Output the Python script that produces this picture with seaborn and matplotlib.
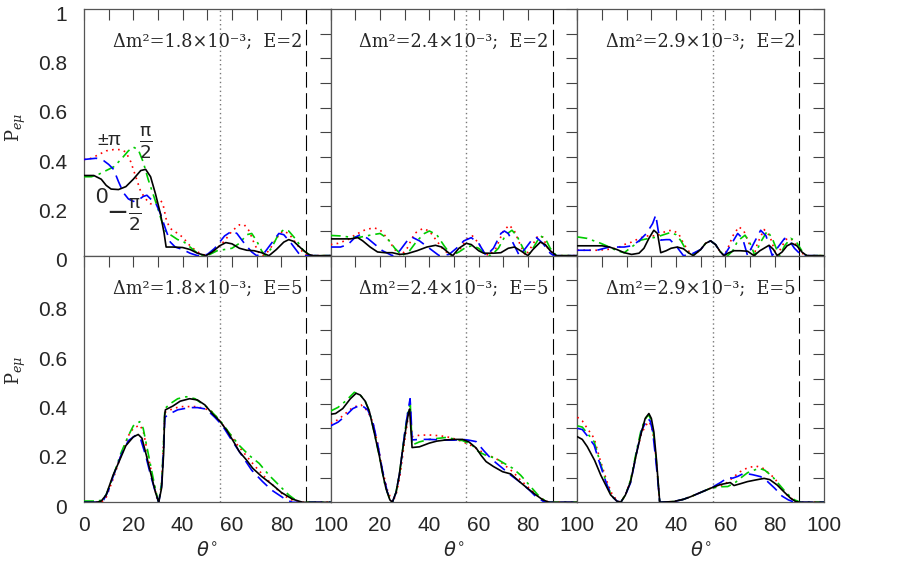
import numpy as np
import pandas as pd
import matplotlib
matplotlib.use("Agg")
import matplotlib.pyplot as plt
from matplotlib.transforms import ScaledTranslation
import seaborn as sns

# ---------------- data (theta in degrees, P_e_mu) ----------------
phases = ["±π", "π/2", "−π/2", "0"]
panel_titles = [
    "Δm²=1.8×10⁻³;  E=2", "Δm²=2.4×10⁻³;  E=2", "Δm²=2.9×10⁻³;  E=2",
    "Δm²=1.8×10⁻³;  E=5", "Δm²=2.4×10⁻³;  E=5", "Δm²=2.9×10⁻³;  E=5",
]
x_ticklabels = ["0", "20", "40", "60", "80", "100"]
y_ticklabels = ["0", "0.2", "0.4", "0.6", "0.8", "1"]

# top-left: dm2 = 1.8e-3, E = 2
tl_pi = [(0,0.39),(3,0.395),(6,0.41),(9,0.425),(12,0.43),(15,0.43),(17,0.42),(19,0.38),(21,0.32),(23,0.26),(25,0.23),(27,0.21),(29,0.215),(31,0.225),(32,0.21),(33.5,0.14),(35,0.11),(38,0.09),(40,0.075),(43,0.04),(46,0.015),(49.5,0),(53,0.02),(57,0.06),(60,0.1),(63,0.125),(65,0.125),(67,0.1),(69,0.05),(71,0.01),(72.5,0),(75,0.02),(78,0.07),(80.5,0.1),(83,0.09),(86,0.05),(89,0.01),(91,0),(100,0)]
tl_hp = [(0,0.32),(3,0.32),(6,0.33),(9,0.345),(12,0.36),(15,0.39),(18,0.425),(20,0.44),(22,0.43),(24,0.38),(26,0.31),(28,0.25),(30,0.19),(31.5,0.14),(33,0.1),(35,0.085),(38,0.065),(40,0.06),(43,0.035),(46,0.01),(48,0),(51,0.005),(54,0.02),(57,0.025),(60,0.03),(63,0.05),(66,0.085),(68,0.09),(70,0.06),(72,0.02),(73.5,0),(76,0.03),(79,0.09),(81,0.105),(83,0.1),(86,0.065),(89,0.02),(92,0),(100,0)]
tl_mhp = [(0,0.39),(5,0.395),(8,0.385),(10,0.37),(12,0.35),(14,0.3),(16,0.255),(18,0.23),(20,0.22),(22,0.225),(24,0.24),(25.5,0.245),(27,0.23),(29,0.215),(31,0.17),(33,0.11),(35,0.055),(37,0.035),(40,0.025),(43,0.01),(46,0),(50,0.005),(53,0.03),(57,0.08),(60,0.1),(62,0.09),(65,0.05),(68,0.015),(70,0),(73,0.01),(76,0.05),(79,0.09),(81,0.085),(84,0.05),(87,0.01),(88,0),(100,0)]
tl_zero = [(0,0.325),(4,0.325),(7,0.31),(9,0.285),(11,0.27),(14,0.268),(17,0.28),(20,0.31),(23,0.345),(25,0.35),(27,0.32),(29,0.25),(31,0.17),(32.5,0.09),(33.3,0.035),(36,0.035),(40,0.033),(43,0.025),(46,0.01),(49.5,0),(52,0.015),(55,0.04),(57.5,0.053),(60,0.048),(63,0.03),(66,0.022),(69,0.02),(72,0.012),(75,0),(78,0.025),(81,0.055),(83,0.065),(85,0.058),(88,0.03),(91,0.005),(93,0),(100,0)]

# top-middle: dm2 = 2.4e-3, E = 2
tm_pi = [(0,0.045),(3,0.05),(7,0.065),(10,0.085),(14,0.105),(17.5,0.113),(20,0.105),(23,0.07),(26,0.025),(28.5,0),(31,0.03),(34,0.09),(37.3,0.11),(40,0.1),(43,0.06),(46,0.02),(49.5,0),(52,0.02),(54,0.05),(56,0.075),(57.5,0.08),(60,0.05),(62,0.015),(64,0),(67,0.03),(70,0.1),(72.4,0.124),(74.5,0.1),(77,0.04),(79,0),(81,0.03),(84,0.08),(86,0.075),(88,0.03),(91,0),(100,0)]
tm_hp = [(0,0.082),(4,0.08),(8,0.075),(12,0.075),(16,0.083),(20,0.09),(23,0.07),(26,0.03),(29,0),(32,0.02),(35,0.06),(38,0.09),(40,0.1),(43,0.085),(46,0.04),(49,0),(52,0.015),(55,0.035),(57.5,0.04),(60,0.03),(63,0.005),(65,0),(68,0.03),(71,0.085),(73.5,0.103),(75.5,0.08),(78,0.03),(80,0),(82,0.03),(85,0.08),(87,0.07),(89,0.03),(91.5,0),(100,0)]
tm_mhp = [(0,0.035),(4,0.035),(7,0.045),(10,0.075),(12,0.085),(15,0.07),(18,0.045),(21,0.02),(25,0),(28,0.02),(31,0.06),(33,0.075),(36,0.06),(40,0.03),(44,0),(48,0.005),(51,0.03),(54,0.06),(57,0.073),(60,0.05),(63,0),(66,0.03),(69,0.09),(70.4,0.1),(72,0.09),(74.5,0.04),(76.5,0),(79,0.03),(82,0.07),(83.5,0.073),(86,0.05),(89,0.01),(90.5,0),(100,0)]
tm_zero = [(0,0.068),(4,0.068),(8,0.068),(11,0.073),(13,0.06),(16,0.035),(19,0.015),(22,0.012),(25,0.012),(28,0.005),(31,0.008),(35,0.02),(39,0.035),(42.5,0.042),(45,0.035),(48,0.01),(49.5,0),(52,0.03),(55,0.05),(57,0.045),(60,0.02),(62,0.01),(66,0.01),(69,0.012),(72,0.03),(74.5,0.035),(77,0.02),(80,0),(82,0.025),(85,0.055),(87,0.045),(89,0.02),(91.5,0),(100,0)]

# top-right: dm2 = 2.9e-3, E = 2
tr_pi = [(0,0.022),(4,0.022),(8,0.022),(12,0.025),(16,0.03),(19,0.045),(22,0.055),(25.7,0.073),(29.7,0.083),(31,0.08),(32,0.078),(34.5,0.092),(36,0.1),(38.5,0.103),(41,0.09),(43,0.05),(45,0.02),(47,0),(50,0.025),(52,0.05),(54,0.06),(56,0.045),(58,0.015),(59.5,0),(61,0.03),(63,0.08),(65.5,0.117),(67.5,0.1),(70,0.04),(71.6,0),(73,0.05),(75.7,0.106),(78,0.08),(80,0.02),(81,0),(83,0.04),(85,0.07),(87,0.065),(89,0.04),(91,0.01),(93,0),(100,0)]
tr_hp = [(0,0.076),(4,0.07),(9.5,0.05),(13,0.035),(16,0.02),(19,0.012),(22,0.035),(25.7,0.063),(29,0.07),(32,0.075),(35,0.085),(37.8,0.094),(40,0.085),(42,0.06),(44,0.025),(46,0),(50,0.025),(52,0.05),(54,0.06),(56,0.045),(58,0.015),(61,0),(63,0.02),(65,0.06),(68,0.083),(70,0.05),(72,0),(74,0.05),(77,0.1),(79,0.07),(81,0.02),(82,0),(84,0.04),(86.5,0.07),(88.5,0.06),(91,0.02),(93,0),(100,0)]
tr_mhp = [(0,0.022),(4,0.022),(8,0.022),(11,0.03),(13,0.035),(19,0.035),(22,0.04),(25,0.06),(28,0.09),(30.5,0.13),(31.8,0.165),(32.8,0.1),(33.8,0.063),(36,0.065),(37.5,0.065),(40,0.04),(43,0),(46,0.005),(50,0.025),(52,0.05),(54,0.06),(56,0.045),(58,0.015),(59.5,0),(62,0.04),(65,0.09),(67,0.07),(69,0),(71,0.04),(74.3,0.103),(76.5,0.08),(79,0),(81,0.03),(84,0.07),(86,0.06),(88,0.03),(91,0),(100,0)]
tr_zero = [(0,0.04),(5,0.04),(10,0.04),(13,0.035),(16,0.025),(19,0.012),(22,0.005),(25,0.01),(27,0.03),(29,0.07),(31,0.103),(32.5,0.09),(33.8,0.012),(36,0.02),(38,0.03),(40.5,0.035),(43,0.028),(45,0.012),(47,0),(50,0.025),(52,0.05),(54,0.06),(56,0.045),(58,0.015),(59.5,0),(61,0.01),(63.5,0.02),(66,0.02),(69,0.018),(71.6,0),(74,0.02),(77.7,0.042),(79.5,0.025),(81,0),(83,0.015),(85,0.04),(87,0.05),(89,0.04),(91,0.015),(93,0),(100,0)]

# bottom-left: dm2 = 1.8e-3, E = 5
bl_pi = [(0,0),(7,0),(9,0.02),(12,0.1),(15,0.19),(18,0.27),(20,0.3),(22.6,0.313),(24,0.29),(26,0.19),(28,0.09),(29.5,0.02),(30.3,0),(31.5,0.08),(32.3,0.25),(32.8,0.365),(35,0.375),(38.8,0.388),(45.5,0.388),(49,0.38),(52,0.367),(55,0.33),(59,0.28),(62,0.235),(65.7,0.19),(69,0.15),(73.8,0.097),(78,0.055),(81.8,0.023),(86,0),(100,0)]
bl_hp = [(0,0.005),(5,0.005),(7,0.008),(9,0.03),(12,0.11),(15,0.2),(18,0.27),(20,0.31),(22.6,0.327),(24,0.3),(26,0.2),(28,0.1),(29.5,0.03),(30.3,0),(31.5,0.08),(32.3,0.25),(32.8,0.38),(35,0.4),(38,0.42),(41.5,0.428),(45,0.42),(50,0.385),(55,0.334),(59,0.28),(63,0.23),(67,0.19),(71,0.158),(75,0.11),(79,0.07),(83,0.03),(87,0),(100,0)]
bl_mhp = [(0,0),(5,0),(8,0.01),(10,0.05),(12,0.11),(15,0.19),(18,0.25),(21,0.272),(23,0.255),(25,0.19),(27,0.11),(29,0.04),(30.3,0),(31.5,0.07),(32.3,0.22),(32.8,0.345),(35,0.36),(38,0.375),(42.8,0.384),(46,0.384),(49.5,0.378),(53,0.345),(56,0.313),(60,0.25),(64,0.19),(68,0.13),(72.4,0.084),(76,0.05),(79,0.03),(82,0.01),(84.5,0),(100,0)]
bl_zero = [(0,0),(5,0),(7,0.005),(9,0.03),(11.8,0.11),(14,0.16),(17,0.23),(20,0.265),(22,0.275),(23.5,0.26),(25.3,0.19),(27,0.12),(29,0.04),(30.3,0),(31.5,0.06),(32.3,0.2),(32.7,0.35),(33,0.375),(36,0.39),(39,0.41),(42.8,0.42),(46,0.415),(49,0.395),(52,0.36),(55,0.33),(58,0.29),(61,0.24),(63,0.205),(66,0.17),(68.4,0.138),(72,0.105),(76.5,0.07),(80,0.04),(84.5,0.013),(88.6,0),(100,0)]

# bottom-middle: dm2 = 2.4e-3, E = 5
bm_pi = [(0,0.32),(3,0.335),(6,0.36),(9,0.385),(12.3,0.395),(15,0.37),(17,0.327),(19,0.24),(21,0.13),(23,0.05),(25,0),(26.5,0.03),(28,0.1),(30,0.25),(31.5,0.35),(32.3,0.368),(33,0.266),(36,0.272),(40,0.273),(44,0.27),(47,0.266),(50,0.258),(53.5,0.246),(57,0.23),(60,0.212),(63,0.195),(67,0.178),(70,0.155),(73.8,0.124),(77,0.09),(80.5,0.057),(84,0.025),(87,0.005),(89,0),(100,0)]
bm_hp = [(0,0.37),(3,0.385),(6,0.41),(9.6,0.446),(12,0.435),(14,0.41),(15.7,0.37),(17.5,0.29),(19.7,0.19),(22,0.07),(24,0.01),(25,0),(26.5,0.04),(28,0.12),(30,0.28),(31.5,0.38),(32.3,0.395),(33,0.232),(36,0.245),(40,0.255),(46.8,0.263),(53.5,0.25),(57,0.235),(60,0.205),(63,0.19),(67,0.178),(70,0.16),(73.8,0.138),(77,0.11),(80.5,0.07),(84,0.03),(87,0.005),(89,0),(100,0)]
bm_mhp = [(0,0.31),(3,0.325),(6,0.35),(9,0.38),(12.3,0.395),(15,0.375),(17,0.33),(19,0.24),(21,0.13),(23,0.04),(25,0),(26.5,0.04),(28,0.12),(30,0.28),(31.5,0.38),(32.2,0.42),(32.6,0.35),(33,0.253),(36,0.255),(40,0.255),(46.8,0.252),(50,0.252),(53.5,0.255),(56,0.252),(59,0.246),(62,0.21),(64.3,0.185),(67,0.16),(69.7,0.138),(73,0.11),(76.5,0.084),(80.5,0.05),(83,0.025),(86,0.005),(87.3,0),(100,0)]
bm_zero = [(0,0.357),(2,0.36),(4.9,0.38),(8,0.42),(10.3,0.442),(12,0.435),(14,0.41),(15.7,0.368),(17.5,0.29),(19.7,0.19),(21,0.12),(22.4,0.057),(24,0.01),(25,0),(26.5,0.04),(27.8,0.11),(29,0.2),(30.5,0.3),(31.5,0.36),(32,0.378),(32.5,0.3),(33,0.222),(36,0.225),(40,0.24),(43,0.248),(46.8,0.253),(50,0.255),(53.5,0.255),(56,0.245),(59,0.22),(61,0.19),(63,0.165),(66,0.145),(69.7,0.124),(73,0.115),(76.5,0.084),(80,0.055),(83.2,0.03),(86,0.01),(88.6,0),(100,0)]

# bottom-right: dm2 = 2.9e-3, E = 5
br_pi = [(0,0.345),(2,0.33),(4,0.3),(6.8,0.26),(9,0.18),(12,0.084),(14,0.035),(16,0.008),(17.6,0),(19.5,0.03),(21.6,0.09),(24,0.2),(26,0.28),(28,0.315),(29,0.327),(30,0.31),(31,0.26),(32,0.17),(33,0.05),(33.4,0),(39,0.003),(43,0.012),(46,0.023),(50,0.04),(54,0.057),(57,0.065),(59.5,0.07),(63,0.1),(66,0.124),(69,0.14),(72.3,0.147),(75,0.14),(78,0.115),(80,0.097),(82.5,0.06),(85,0.03),(87.5,0.01),(90,0),(100,0)]
br_hp = [(0,0.31),(2,0.305),(4,0.28),(6.8,0.246),(9,0.17),(12,0.07),(14,0.025),(16,0.005),(17.6,0),(19.5,0.03),(21.6,0.09),(24,0.21),(26,0.3),(28,0.345),(29,0.354),(30,0.33),(31,0.27),(32,0.17),(33,0.05),(33.4,0),(39,0.003),(43,0.012),(46,0.023),(50,0.04),(54,0.057),(58,0.063),(61,0.064),(64,0.08),(66,0.097),(69,0.12),(73.6,0.138),(76,0.13),(79,0.105),(82,0.07),(85,0.035),(88,0.01),(90.5,0),(100,0)]
br_mhp = [(0,0.3),(2,0.295),(4,0.27),(6.8,0.232),(9,0.16),(12,0.07),(14,0.025),(16,0.005),(17.6,0),(19.5,0.03),(21.6,0.08),(24,0.2),(26,0.29),(28.5,0.34),(29.5,0.33),(30.5,0.29),(31.5,0.2),(32.5,0.1),(33.4,0),(39,0.003),(43,0.012),(46,0.023),(50,0.04),(54,0.057),(58,0.08),(61,0.1),(63,0.098),(65,0.105),(67.6,0.118),(71,0.112),(74.3,0.104),(77,0.085),(80,0.057),(83,0.025),(85.5,0.01),(88,0),(100,0)]
br_zero = [(0,0.266),(2,0.255),(4,0.226),(7,0.17),(9.5,0.11),(12,0.06),(13.5,0.03),(16,0.005),(17.6,0),(19.5,0.03),(21.6,0.084),(24,0.2),(25.7,0.273),(27.5,0.34),(29,0.36),(30,0.34),(31,0.286),(32,0.18),(33,0.05),(33.4,0),(39,0.003),(43,0.012),(46,0.023),(50,0.04),(54,0.057),(58,0.072),(62,0.08),(63.5,0.068),(66,0.075),(69,0.084),(72,0.09),(75.7,0.097),(78,0.092),(81,0.07),(84,0.04),(86.5,0.016),(88.5,0.003),(90.5,0),(100,0)]

panels = [
    [tl_pi, tl_hp, tl_mhp, tl_zero],
    [tm_pi, tm_hp, tm_mhp, tm_zero],
    [tr_pi, tr_hp, tr_mhp, tr_zero],
    [bl_pi, bl_hp, bl_mhp, bl_zero],
    [bm_pi, bm_hp, bm_mhp, bm_zero],
    [br_pi, br_hp, br_mhp, br_zero],
]

# ---------------- style ----------------
sns.set_style("white")
plt.rcParams["font.family"] = ["Liberation Sans", "DejaVu Sans"]
plt.rcParams["mathtext.fontset"] = "dejavusans"

palette = {"±π": "#ff0000", "π/2": "#00cc00", "−π/2": "#0000ff", "0": "#000000"}
dashes = {"±π": (1, 2.6), "π/2": (6, 3, 1.5, 3), "−π/2": (8, 4), "0": ""}

fig, axes = plt.subplots(2, 3, figsize=(9, 5.64), dpi=100)
fig.subplots_adjust(left=0.0933, right=0.9156, top=0.984, bottom=0.1094,
                    wspace=0, hspace=0)
shift_down = ScaledTranslation(0, -4.0 / 100, fig.dpi_scale_trans)

for i, ax in enumerate(axes.flat):
    rows = []
    for ph, curve in zip(phases, panels[i]):
        for (t, p) in curve:
            rows.append((t, p, ph))
    df = pd.DataFrame(rows, columns=["theta", "P", "phase"])
    ax.axvline(55, color="#777777", ls=(0, (1, 2.2)), lw=1.0, zorder=1)
    ax.axvline(90, color="black", ls=(0, (14, 5)), lw=0.8, zorder=1)
    sns.lineplot(data=df, x="theta", y="P", hue="phase", style="phase",
                 hue_order=phases, style_order=phases, palette=palette,
                 dashes=dashes, sort=False, estimator=None, legend=False,
                 lw=1.2, ax=ax, zorder=3)
    ax.set_xlim(0, 100)
    ax.set_ylim(0, 1)
    ax.set_xlabel("")
    ax.set_ylabel("")
    for s in ax.spines.values():
        s.set_color("#555555")
        s.set_linewidth(0.9)
    ax.set_xticks(np.arange(0, 101, 20))
    ax.set_xticks(np.arange(0, 101, 10), minor=True)
    ax.set_yticks(np.arange(0, 1.01, 0.2))
    ax.set_yticks(np.arange(0, 1.01, 0.1), minor=True)
    ax.tick_params(which="both", direction="in", top=True, right=True,
                   length=8, width=0.8, color="#444444", labelsize=15)
    ax.tick_params(axis="y", pad=12)
    ax.tick_params(axis="x", pad=10)
    r, c = divmod(i, 3)
    if r == 1:
        labs = list(x_ticklabels)
        if c > 0:
            labs[0] = ""
        ax.set_xticklabels(labs)
    else:
        ax.set_xticklabels([""] * 6)
    if c == 0:
        labs = list(y_ticklabels)
        if r == 1:
            labs[-1] = ""
        ax.set_yticklabels(labs)
        for lab in ax.get_yticklabels():
            lab.set_transform(lab.get_transform() + shift_down)
    else:
        ax.set_yticklabels([""] * 6)
    ax.text(50, 0.866, panel_titles[i], ha="center", va="center",
            fontsize=12.8, family="DejaVu Serif")
    if r == 1:
        ax.text(50, -0.197, r"$\theta^{\circ}$", ha="center", va="center",
                fontsize=14, transform=ax.get_xaxis_transform())

# y labels
for yc in (0.775, 0.343):
    fig.text(0.018, yc, r"P$_{e\mu}$", rotation=90, ha="center", va="center",
             fontsize=13, family="DejaVu Serif", math_fontfamily="dejavuserif")

# curve annotations in the first panel
ax0 = axes[0, 0]
ax0.text(10.3, 0.465, "±π", ha="center", va="center", fontsize=14)
ax0.text(25.2, 0.46, r"$\frac{\mathrm{\pi}}{\mathrm{2}}$", ha="center",
         va="center", fontsize=19)
ax0.text(6.9, 0.235, "0", ha="center", va="center", fontsize=16)
ax0.text(16.2, 0.166, r"$-\frac{\mathrm{\pi}}{\mathrm{2}}$", ha="center",
         va="center", fontsize=19)

fig.savefig("out.png", dpi=100)
